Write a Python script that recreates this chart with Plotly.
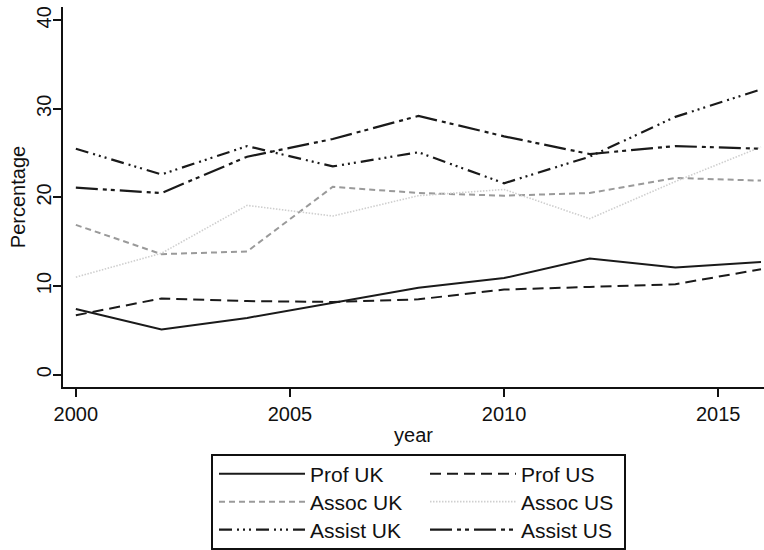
import plotly.graph_objects as go

# Share of staff by rank and country, every second year
years = [2000, 2002, 2004, 2006, 2008, 2010, 2012, 2014, 2016]

prof_uk = [7.4, 5.1, 6.4, 8.1, 9.8, 10.9, 13.1, 12.1, 12.7]
prof_us = [6.7, 8.6, 8.3, 8.2, 8.5, 9.6, 9.9, 10.2, 11.9]
assoc_uk = [16.9, 13.6, 13.9, 21.2, 20.5, 20.2, 20.5, 22.2, 21.9]
assoc_us = [11.0, 13.7, 19.1, 17.9, 20.2, 20.9, 17.6, 21.8, 25.7]
assist_uk = [25.5, 22.6, 25.8, 23.5, 25.1, 21.6, 24.6, 29.1, 32.2]
assist_us = [21.1, 20.5, 24.6, 26.6, 29.2, 26.9, 24.9, 25.8, 25.5]

y_ticks = [0, 10, 20, 30, 40]
x_ticks = [2000, 2005, 2010, 2015]

FONT = "Liberation Sans, Arial, sans-serif"

W, H = 764, 550
ML, MR, MT, MB = 63, 0, 7, 163
pw, ph = W - ML - MR, H - MT - MB


def px(xp):
    return (xp - ML) / pw


def py(yp):
    return (H - MB - yp) / ph


# legend grid: two columns (UK, US) by three rows (rank)
col_x = [214, 425]
row_y = [474, 502, 530]

series = [
    # name, values, colour, width, dash, column, row
    ("Prof UK", prof_uk, "#1a1a1a", 2, "solid", 0, 0),
    ("Prof US", prof_us, "#1a1a1a", 2, "11px,6px", 1, 0),
    ("Assoc UK", assoc_uk, "#9a9a9a", 2, "6px,4px", 0, 1),
    ("Assoc US", assoc_us, "#cfcfcf", 1.6, "1.5px,1.5px", 1, 1),
    ("Assist UK", assist_uk, "#1a1a1a", 2.2, "13px,5px,2px,4px,2px,4px,2px,5px", 0, 2),
    ("Assist US", assist_us, "#1a1a1a", 2.2, "22px,5px,4px,4px,4px,5px", 1, 2),
]

fig = go.Figure()
legends = {}
for i, (name, vals, color, width, dash, col, row) in enumerate(series):
    key = "legend" if i == 0 else f"legend{i + 1}"
    fig.add_trace(go.Scatter(
        x=years, y=vals, mode="lines", name=name,
        line=dict(color=color, width=width, dash=dash),
        legend=key,
    ))
    legends[key] = dict(
        x=px(col_x[col]), y=py(row_y[row]),
        xanchor="left", yanchor="middle",
        font=dict(family=FONT, size=21, color="#111"),
        bgcolor="rgba(0,0,0,0)", borderwidth=0, itemwidth=86,
    )

# horizontal reference lines below the top tick
for v in y_ticks[:-1]:
    fig.add_hline(y=v, line=dict(color="#e6e6e6", width=1), layer="below")

fig.update_layout(
    width=W, height=H,
    margin=dict(l=ML, r=MR, t=MT, b=MB, autoexpand=False),
    paper_bgcolor="white", plot_bgcolor="white",
    font=dict(family=FONT, size=20, color="#111"),
    showlegend=True,
    xaxis=dict(
        range=[1999.70, 2016.07], tickvals=x_ticks,
        showgrid=False, zeroline=False,
        showline=True, linecolor="#111", linewidth=2,
        ticks="outside", ticklen=8, tickwidth=1.5, tickcolor="#111",
        tickfont=dict(family=FONT, size=20),
        title=dict(text="year", font=dict(family=FONT, size=20), standoff=4),
    ),
    yaxis=dict(
        range=[-1.4, 41.5], tickvals=y_ticks,
        showgrid=False, zeroline=False,
        showline=True, linecolor="#111", linewidth=2,
        ticks="outside", ticklen=8, tickwidth=1.5, tickcolor="#111",
        tickangle=-90, ticklabelstandoff=-6,
        tickfont=dict(family=FONT, size=20),
        title=dict(text="Percentage", font=dict(family=FONT, size=20), standoff=2),
    ),
    shapes=[dict(
        type="rect", xref="paper", yref="paper",
        x0=px(212), x1=px(625), y0=py(549), y1=py(455),
        line=dict(color="#111", width=1.5), fillcolor="rgba(0,0,0,0)",
    )],
    **legends,
)

fig.write_html("out.html")
